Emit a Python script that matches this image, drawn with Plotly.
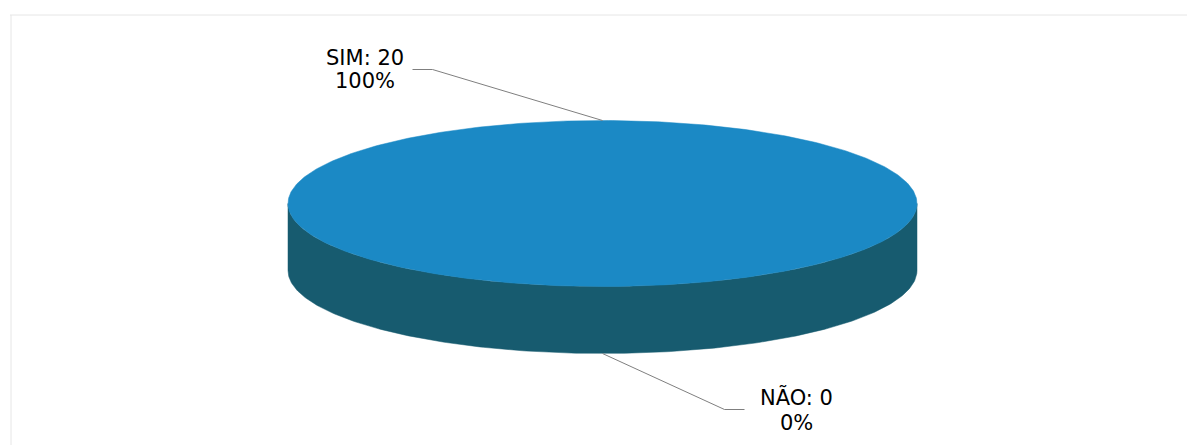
import numpy as np
import plotly.graph_objects as go

# ---- data ----
labels = ["SIM", "NÃO"]
values = [20, 0]

# ---- style / layout constants ----
W, H = 1187, 445
CX, CY = 602.5, 203.5      # centre of the top face (px)
RX, RY = 314.5, 83.0       # radii of the top face (px)
DEPTH = 67.0               # thickness of the disc (px)
START_DEG = 180            # first slice angle, clockwise from 12 o'clock
TOP_COLORS = ["#1b89c5", "#9999ff"]
SIDE_COLORS = ["#175b6f", "#5c5c99"]
LEADER_OFFSETS = [(-170, -51), (122, 56)]   # elbow offset from anchor point
LEADER_TAIL = 20                            # horizontal tail length
LABEL_GAP = [48, 52]                        # tail end -> label centre
LINE_SHIFT = [(-11.5, 11.5), (-12.5, 13.0)]
FONT = dict(family="DejaVu Sans, Arial, sans-serif", size=21, color="#000000")


def pt(theta_deg, drop=0.0):
    t = np.radians(theta_deg)
    return CX + RX * np.sin(t), CY - RY * np.cos(t) + drop


def arc(a, b, n=240, drop=0.0):
    th = np.linspace(a, b, n)
    xs, ys = pt(th, drop)
    return list(xs), list(ys)


def front_runs(a0, a1, step=0.25):
    """Contiguous runs of the visible front (90..270 deg) covered by [a0, a1]."""
    grid = np.arange(90.0, 270.0 + step / 2, step)
    span = a1 - a0
    covered = ((grid - a0) % 360.0) <= span + 1e-9
    runs, start = [], None
    for g, c in zip(grid, covered):
        if c and start is None:
            start = g
        if not c and start is not None:
            runs.append((start, prev))
            start = None
        prev = g
    if start is not None:
        runs.append((start, grid[-1]))
    return runs


fig = go.Figure()
total = float(sum(values))
cum = 0.0
slices = []
for lab, v, tc, sc in zip(labels, values, TOP_COLORS, SIDE_COLORS):
    a0 = START_DEG + cum / total * 360.0
    a1 = a0 + v / total * 360.0
    cum += v
    slices.append((lab, v, a0, a1, tc, sc))

# sides (front half only)
for lab, v, a0, a1, tc, sc in slices:
    if v <= 0:
        continue
    for a, b in front_runs(a0, a1):
        xt, yt = arc(a, b)
        xb, yb = arc(b, a, drop=DEPTH)
        fig.add_trace(go.Scatter(x=xt + xb + [xt[0]], y=yt + yb + [yt[0]],
                                 mode="lines", fill="toself", fillcolor=sc,
                                 line=dict(width=0.5, color=sc),
                                 hoverinfo="skip", showlegend=False))

# top faces
for lab, v, a0, a1, tc, sc in slices:
    if v <= 0:
        continue
    xs, ys = arc(a0, a1, n=480)
    if a1 - a0 < 359.999:
        xs = [CX] + xs + [CX]
        ys = [CY] + ys + [CY]
    fig.add_trace(go.Scatter(x=xs, y=ys, mode="lines", fill="toself",
                             fillcolor=tc, line=dict(width=0.5, color=tc),
                             hoverinfo="skip", showlegend=False))

# leader lines and labels
for i, (lab, v, a0, a1, tc, sc) in enumerate(slices):
    mid = (a0 + a1) / 2.0
    front = np.cos(np.radians(mid)) < 0
    ax, ay = pt(mid, DEPTH if front else 0.0)
    dx, dy = LEADER_OFFSETS[i]
    ex, ey = ax + dx, ay + dy
    sgn = 1 if dx > 0 else -1
    tx = ex + sgn * LEADER_TAIL
    fig.add_trace(go.Scatter(x=[ax, ex, tx], y=[ay, ey, ey], mode="lines",
                             line=dict(color="#7f7f7f", width=1),
                             hoverinfo="skip", showlegend=False))
    cxl = tx + sgn * LABEL_GAP[i]
    pct = round(100 * v / total)
    for txt, sh in zip([f"{lab}: {v}", f"{pct}%"], LINE_SHIFT[i]):
        fig.add_annotation(x=cxl, y=ey + sh, text=txt, showarrow=False,
                           xanchor="center", yanchor="middle", font=FONT)

# faint chart-area frame
fig.add_shape(type="line", x0=10, x1=W, y0=15, y1=15,
              line=dict(color="#e6e6e6", width=1))
fig.add_shape(type="line", x0=11, x1=11, y0=15, y1=H,
              line=dict(color="#e6e6e6", width=1))

fig.update_layout(
    width=W, height=H, margin=dict(l=0, r=0, t=0, b=0),
    paper_bgcolor="white", plot_bgcolor="white",
    xaxis=dict(range=[0, W], visible=False, fixedrange=True),
    yaxis=dict(range=[H, 0], visible=False, fixedrange=True),
    showlegend=False,
)
fig.write_html("out.html")
